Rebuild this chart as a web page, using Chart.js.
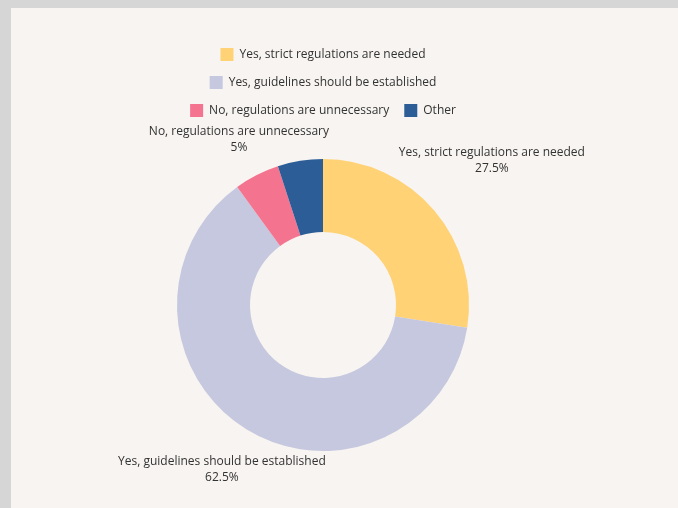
<!DOCTYPE html>
<html><head><meta charset="utf-8">
<script src="https://cdn.jsdelivr.net/npm/chart.js@4"></script>
<style>
html,body{margin:0;padding:0;background:#d6d6d6;width:678px;height:508px;overflow:hidden}
#panel{position:absolute;left:11px;top:8px;right:0;bottom:0;background:#f7f4f1}
#wrap{position:absolute;left:0;top:0;width:678px;height:508px}
</style></head><body>
<div id="panel"></div>
<div id="wrap"><canvas id="c" width="678" height="508"></canvas></div>
<script>
const categories = ['Yes, strict regulations are needed', 'Yes, guidelines should be established', 'No, regulations are unnecessary', 'Other'];
const percentages = [27.5, 62.5, 5, 5];
const colors = ['#FFD275', '#C5C8DE', '#F4738E', '#2C5D97'];

const FONT = '"Open Sans", "Noto Sans", sans-serif';
const TEXT = '#333333';

const outLabels = {
  id: 'outLabels',
  afterDatasetsDraw(chart) {
    const ctx = chart.ctx;
    const meta = chart.getDatasetMeta(0);
    ctx.save();
    ctx.font = '12px ' + FONT;
    ctx.fillStyle = TEXT;
    ctx.textAlign = 'center';
    ctx.textBaseline = 'middle';
    const lh = 16, gap = 3;
    const drawn = [];
    meta.data.forEach((arc, i) => {
      const p = arc.getProps(['x', 'y', 'startAngle', 'endAngle', 'outerRadius'], true);
      const mid = (p.startAngle + p.endAngle) / 2;
      const vx = Math.cos(mid), vy = Math.sin(mid);
      const lines = [categories[i], percentages[i] + '%'];
      const w = Math.max(...lines.map(s => ctx.measureText(s).width));
      const h = lines.length * lh;
      const target = p.outerRadius + gap;
      const near = t => {
        const cx = vx * t, cy = vy * t;
        const dx = Math.max(Math.abs(cx) - w / 2, 0), dy = Math.max(Math.abs(cy) - h / 2, 0);
        return Math.hypot(dx, dy);
      };
      let lo = 0, hi = p.outerRadius + w + h;
      for (let k = 0; k < 60; k++) { const m = (lo + hi) / 2; if (near(m) < target) lo = m; else hi = m; }
      const cx = p.x + vx * hi, cy = p.y + vy * hi;
      const rect = {l: cx - w / 2, r: cx + w / 2, t: cy - h / 2, b: cy + h / 2};
      if (drawn.some(d => !(rect.r < d.l || rect.l > d.r || rect.b < d.t || rect.t > d.b))) return;
      drawn.push(rect);
      lines.forEach((s, j) => ctx.fillText(s, cx, cy + (j - (lines.length - 1) / 2) * lh));
    });
    ctx.restore();
  }
};

new Chart(document.getElementById('c'), {
  type: 'doughnut',
  data: {
    labels: categories,
    datasets: [{
      data: percentages,
      backgroundColor: colors,
      borderWidth: 0,
      radius: 146,
      cutout: '50%'
    }]
  },
  options: {
    responsive: false,
    animation: false,
    devicePixelRatio: 1,
    layout: {padding: {left: 153, right: 185, top: 33, bottom: 25}},
    plugins: {
      tooltip: {enabled: false},
      legend: {
        position: 'top',
        labels: {
          boxWidth: 13, boxHeight: 13, padding: 15,
          color: TEXT,
          font: {family: FONT, size: 12}
        }
      }
    }
  },
  plugins: [outLabels]
});
</script>
</body></html>
